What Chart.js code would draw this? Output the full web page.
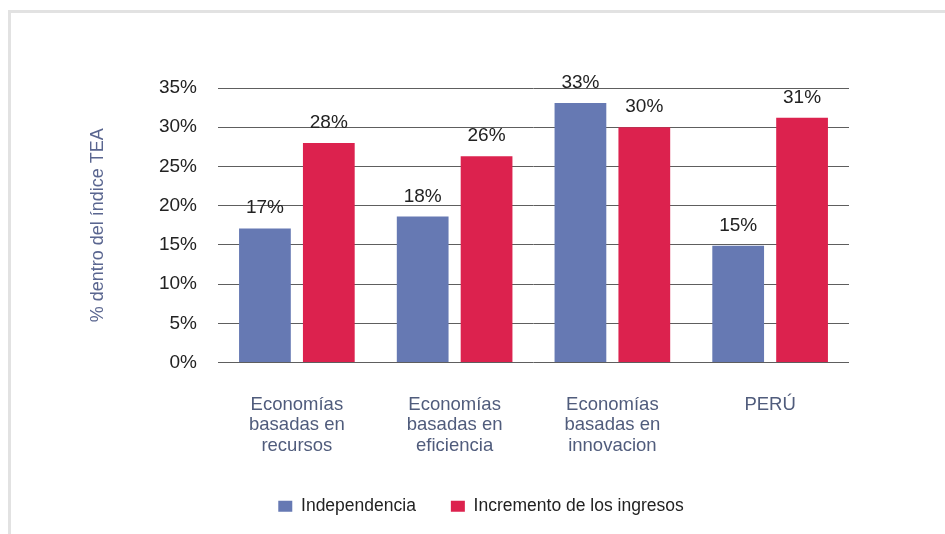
<!DOCTYPE html>
<html>
<head>
<meta charset="utf-8">
<script src="https://cdn.jsdelivr.net/npm/chart.js@4"></script>
<style>
  html, body { margin: 0; padding: 0; background: #fff; }
  .frame {
    position: absolute; left: 8px; top: 10px; width: 945px; height: 534px;
    border-top: 3px solid #e2e2e2; border-left: 3px solid #e2e2e2;
  }
  #chart { position: absolute; left: 0; top: 0; }
</style>
</head>
<body>
<div class="frame"></div>
<canvas id="chart" width="945" height="534"></canvas>
<script>
const categories = [
  ["Economías", "basadas en", "recursos"],
  ["Economías", "basadas en", "eficiencia"],
  ["Economías", "basadas en", "innovacion"],
  ["PERÚ"]
];
const independencia = [17.1, 18.6, 33.1, 14.9];
const incremento = [28.0, 26.3, 30.0, 31.2];
const independenciaLabels = ["17%", "18%", "33%", "15%"];
const incrementoLabels = ["28%", "26%", "30%", "31%"];
const yTicks = [0, 5, 10, 15, 20, 25, 30, 35];

const FONT = "'Liberation Sans', Arial, sans-serif";

// labels above bars
const barLabels = {
  id: "barLabels",
  afterDatasetsDraw(chart) {
    const ctx = chart.ctx;
    const texts = [independenciaLabels, incrementoLabels];
    ctx.save();
    ctx.font = "19px " + FONT;
    ctx.fillStyle = "#222";
    ctx.textAlign = "center";
    ctx.textBaseline = "alphabetic";
    chart.data.datasets.forEach((ds, i) => {
      chart.getDatasetMeta(i).data.forEach((bar, j) => {
        ctx.fillText(texts[i][j], bar.x, bar.y - 15);
      });
    });
    ctx.restore();
  }
};

new Chart(document.getElementById("chart"), {
  type: "bar",
  data: {
    labels: categories,
    datasets: [
      {
        label: "Independencia",
        data: independencia,
        backgroundColor: "#6679b3",
        categoryPercentage: 0.81,
        barPercentage: 0.81
      },
      {
        label: "Incremento de los ingresos",
        data: incremento,
        backgroundColor: "#dc224e",
        categoryPercentage: 0.81,
        barPercentage: 0.81
      }
    ]
  },
  options: {
    responsive: false,
    animation: false,
    layout: { padding: { left: 113, right: 96, top: 88, bottom: 9 } },
    scales: {
      x: {
        grid: { display: false },
        border: { display: false },
        ticks: {
          color: "#505c7c",
          font: { family: FONT, size: 18.5, lineHeight: 1.11 },
          padding: 24,
          maxRotation: 0,
          autoSkip: false
        },
        afterFit: (s) => { s.height = 100; }
      },
      y: {
        min: 0,
        max: 35,
        afterBuildTicks: (s) => { s.ticks = yTicks.map(v => ({ value: v })); },
        grid: { color: "#5e5e5e", drawTicks: false },
        border: { display: false },
        ticks: {
          color: "#222",
          font: { family: FONT, size: 19 },
          padding: 21,
          callback: (v) => v + "%"
        },
        title: {
          display: true,
          text: "% dentro del índice TEA",
          color: "#5a6690",
          font: { family: FONT, size: 18, lineHeight: 1.2 },
          padding: { top: -26, bottom: 0 }
        },
        afterFit: (s) => { s.width = 105; }
      }
    },
    plugins: {
      legend: {
        position: "bottom",
        labels: {
          boxWidth: 14,
          boxHeight: 11,
          padding: 35,
          color: "#222",
          font: { family: FONT, size: 17.5 }
        }
      },
      tooltip: { enabled: false }
    }
  },
  plugins: [barLabels]
});
</script>
</body>
</html>
